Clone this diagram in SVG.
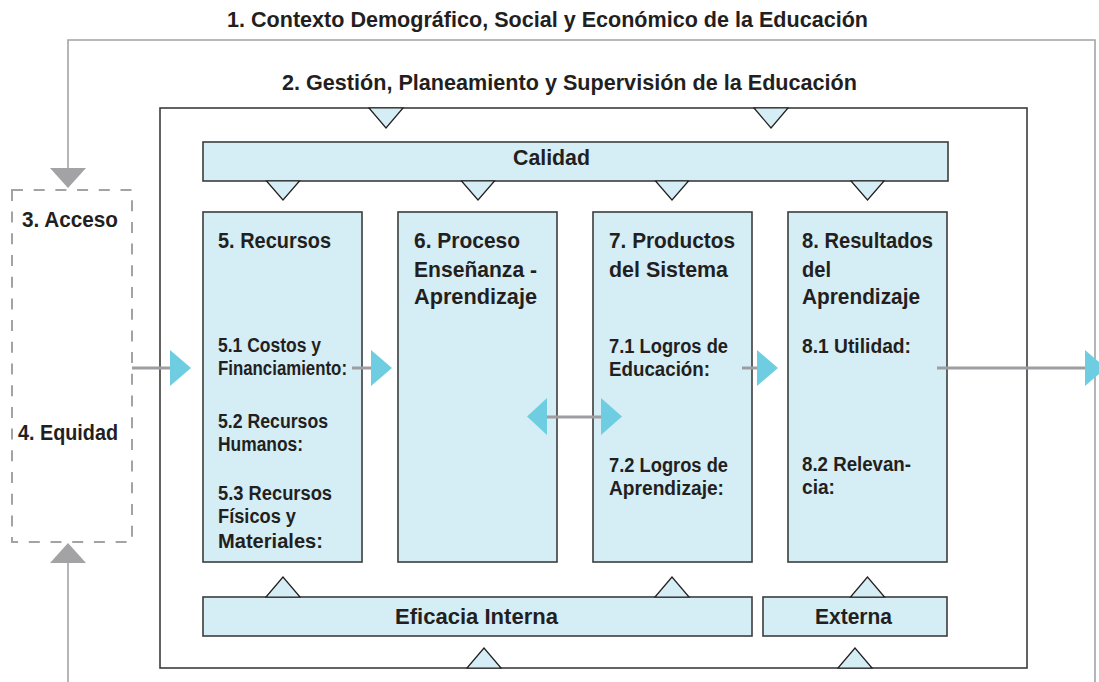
<svg xmlns="http://www.w3.org/2000/svg" width="1099" height="682" viewBox="0 0 1099 682">
<style>
text{font-family:"Liberation Sans",Arial,sans-serif;font-weight:bold;fill:#231f20}
.h{font-size:22.5px}
.s{font-size:19.5px}
.box{fill:#d5edf5;stroke:#3c3c3e;stroke-width:1.6}
.tri{fill:#d5edf5;stroke:#231f20;stroke-width:1.2;stroke-linejoin:miter}
.frame{fill:none;stroke:#3c3c3e;stroke-width:1.6}
.gray{fill:none;stroke:#a3a3a6;stroke-width:1.6}
.conn{stroke:#9d9da2;stroke-width:3;fill:none}
.cy{fill:#6ecde0}
.ga{fill:#a3a3a6}
</style>
<rect width="1099" height="682" fill="#ffffff"/>
<g id="context">
<text class="h" x="227" y="27" textLength="641" lengthAdjust="spacingAndGlyphs">1. Contexto Demográfico, Social y Económico de la Educación</text>
<polyline class="gray" points="68,168 68,40 1095,40 1095,682"/>
<polygon class="ga" points="50,168 86,168 68,188"/>
<line class="gray" x1="68" y1="563" x2="68" y2="682"/>
<polygon class="ga" points="68,543 50,563 86,563"/>
</g>
<g id="gestion">
<text class="h" x="282" y="90" textLength="575" lengthAdjust="spacingAndGlyphs">2. Gestión, Planeamiento y Supervisión de la Educación</text>
<rect class="frame" x="160" y="108" width="867" height="560"/>
<polygon class="tri" points="369,108 403,108 386,128"/>
<polygon class="tri" points="754,108 788,108 771,128"/>
<polygon class="tri" points="484,648 467,668 501,668"/>
<polygon class="tri" points="855,648 838,668 872,668"/>
</g>
<g id="acceso-equidad">
<rect x="12" y="190" width="120" height="352" fill="none" stroke="#a3a3a6" stroke-width="2" stroke-dasharray="11 10.7"/>
<text class="h" x="22" y="227" textLength="96" lengthAdjust="spacingAndGlyphs">3. Acceso</text>
<text class="h" x="18" y="440" textLength="100" lengthAdjust="spacingAndGlyphs">4. Equidad</text>
</g>
<g id="calidad">
<rect class="box" x="203" y="142" width="745" height="39"/>
<text class="h" x="513" y="165" textLength="77" lengthAdjust="spacingAndGlyphs">Calidad</text>
<polygon class="tri" points="266.5,181 299.5,181 283,200"/>
<polygon class="tri" points="461.5,181 494.5,181 478,200"/>
<polygon class="tri" points="655.5,181 688.5,181 672,200"/>
<polygon class="tri" points="851,181 884,181 867.5,200"/>
</g>
<g id="recursos">
<rect class="box" x="203" y="212" width="159" height="350"/>
<text class="h" x="218" y="248" textLength="113" lengthAdjust="spacingAndGlyphs">5. Recursos</text>
<text class="s" x="218" y="352" textLength="103" lengthAdjust="spacingAndGlyphs">5.1 Costos y</text>
<text class="s" x="218" y="375" textLength="129" lengthAdjust="spacingAndGlyphs">Financiamiento:</text>
<text class="s" x="218" y="428" textLength="110" lengthAdjust="spacingAndGlyphs">5.2 Recursos</text>
<text class="s" x="218" y="451" textLength="85" lengthAdjust="spacingAndGlyphs">Humanos:</text>
<text class="s" x="218" y="500" textLength="114" lengthAdjust="spacingAndGlyphs">5.3 Recursos</text>
<text class="s" x="218" y="523" textLength="78" lengthAdjust="spacingAndGlyphs">Físicos y</text>
<text class="s" x="218" y="548" textLength="105" lengthAdjust="spacingAndGlyphs">Materiales:</text>
</g>
<g id="proceso">
<rect class="box" x="398" y="212" width="159" height="350"/>
<text class="h" x="414" y="248" textLength="106" lengthAdjust="spacingAndGlyphs">6. Proceso</text>
<text class="h" x="414" y="277" textLength="123" lengthAdjust="spacingAndGlyphs">Enseñanza -</text>
<text class="h" x="414" y="304" textLength="123" lengthAdjust="spacingAndGlyphs">Aprendizaje</text>
</g>
<g id="productos">
<rect class="box" x="593" y="212" width="159" height="350"/>
<text class="h" x="609" y="248" textLength="126" lengthAdjust="spacingAndGlyphs">7. Productos</text>
<text class="h" x="609" y="277" textLength="119" lengthAdjust="spacingAndGlyphs">del Sistema</text>
<text class="s" x="609" y="353" textLength="119" lengthAdjust="spacingAndGlyphs">7.1 Logros de</text>
<text class="s" x="609" y="376" textLength="101" lengthAdjust="spacingAndGlyphs">Educación:</text>
<text class="s" x="609" y="472" textLength="119" lengthAdjust="spacingAndGlyphs">7.2 Logros de</text>
<text class="s" x="609" y="495" textLength="115" lengthAdjust="spacingAndGlyphs">Aprendizaje:</text>
</g>
<g id="resultados">
<rect class="box" x="788" y="212" width="159" height="350"/>
<text class="h" x="802" y="248" textLength="131" lengthAdjust="spacingAndGlyphs">8. Resultados</text>
<text class="h" x="802" y="277" textLength="29" lengthAdjust="spacingAndGlyphs">del</text>
<text class="h" x="802" y="304" textLength="118" lengthAdjust="spacingAndGlyphs">Aprendizaje</text>
<text class="s" x="802" y="353" textLength="109" lengthAdjust="spacingAndGlyphs">8.1 Utilidad:</text>
<text class="s" x="802" y="471" textLength="109" lengthAdjust="spacingAndGlyphs">8.2 Relevan-</text>
<text class="s" x="802" y="494" textLength="33" lengthAdjust="spacingAndGlyphs">cia:</text>
</g>
<g id="eficacia-interna">
<rect class="box" x="203" y="597" width="549" height="39"/>
<text class="h" x="395" y="624" textLength="163" lengthAdjust="spacingAndGlyphs">Eficacia Interna</text>
<polygon class="tri" points="283,577 266,597 300,597"/>
<polygon class="tri" points="672,577 655,597 689,597"/>
</g>
<g id="externa">
<rect class="box" x="763" y="597" width="184" height="39"/>
<text class="h" x="815" y="624" textLength="77" lengthAdjust="spacingAndGlyphs">Externa</text>
<polygon class="tri" points="867.5,577 850.5,597 884.5,597"/>
</g>
<g id="connectors">
<line class="conn" x1="132" y1="368" x2="171" y2="368"/>
<polygon class="cy" points="170,350 170,386 191,368"/>
<line class="conn" x1="352" y1="368" x2="372" y2="368"/>
<polygon class="cy" points="371,350 371,386 392,368"/>
<line class="conn" x1="546" y1="417" x2="602" y2="417"/>
<polygon class="cy" points="527,416.5 547,398 547,435"/>
<polygon class="cy" points="601,398 601,435 622,416.5"/>
<line class="conn" x1="742" y1="368" x2="758" y2="368"/>
<polygon class="cy" points="757,350 757,386 778,368"/>
<line class="conn" x1="937" y1="368" x2="1086" y2="368"/>
<polygon class="cy" points="1085,350 1085,386 1106,368"/>
</g>
</svg>
